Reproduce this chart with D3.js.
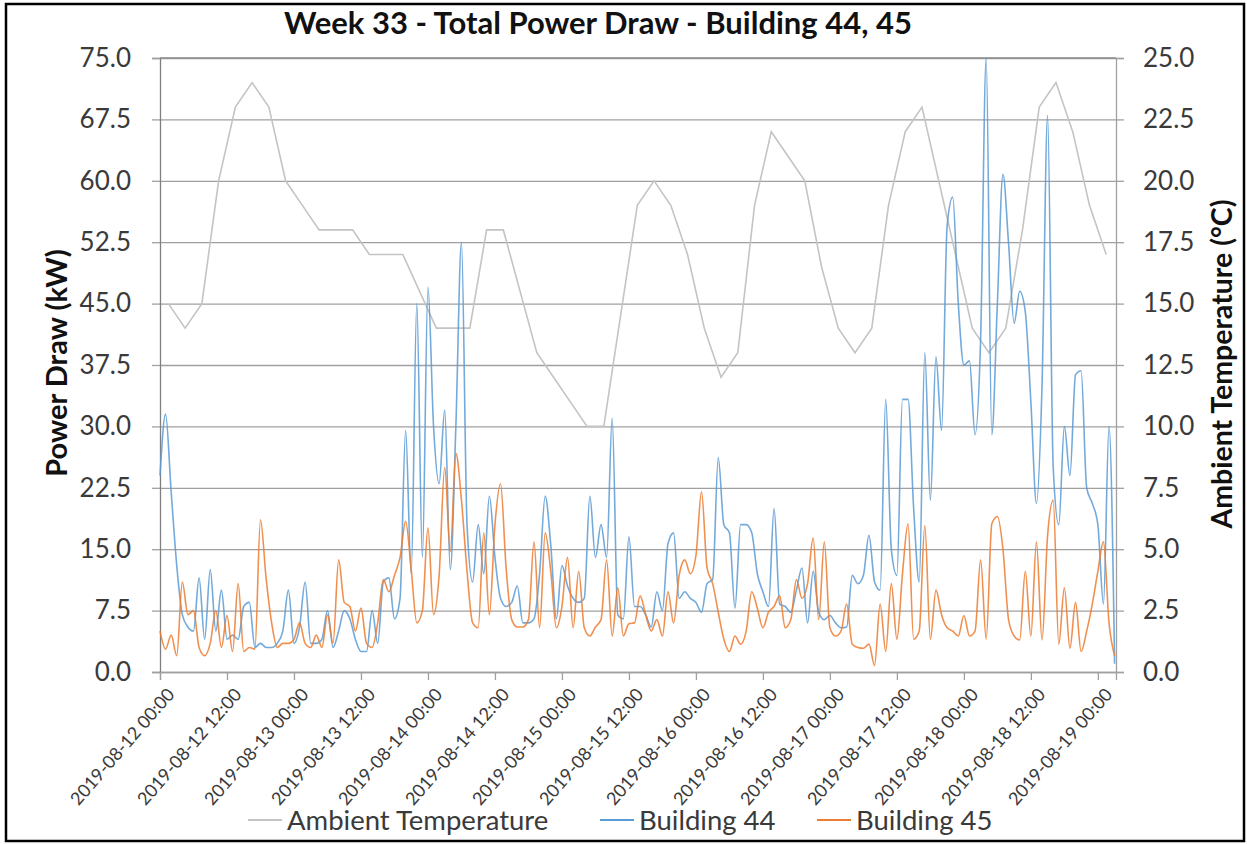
<!DOCTYPE html>
<html><head><meta charset="utf-8">
<script src="https://cdn.jsdelivr.net/npm/d3@7"></script>
<style>
body{margin:0;background:#fff;}
svg{display:block;font-family:Lato,"Open Sans",sans-serif;}
</style></head>
<body><svg id="chart" width="1247" height="844"></svg>
<script>
// ---------------- data ----------------
const chartTitle = "Week 33 - Total Power Draw - Building 44, 45";
const seriesNames = ["Ambient Temperature", "Building 44", "Building 45"];
const startTime = "2019-08-12 00:00";
const endTime = "2019-08-19 03:15";
// hourly readings (kW) from 2019-08-12 00:00
const building44 = [
 24,31.5,22,13,7,5.5,5,11.5,4,12.5,
 5,10,4,4.5,4,8,8.5,3,3.5,3,
 3,3.5,5,10,3.5,5.5,11,3.5,3.5,4,
 7.5,3,5,7.5,6.5,4,2.5,2.5,7.5,3.5,
 11,11.5,6.5,9,29.5,12,45,14,47,30,
 23,32,12.5,30,52.5,18,11,18,12,21.5,
 14,9,8,8.5,10.5,6,6,6.5,12,21.5,
 15.5,6.5,13,10.5,9,8.5,9,21.5,14,18,
 14,31,7,6.5,16.5,8,8,7,5.5,9.8,
 7.5,15.7,17,9,9.8,9,8.5,7.3,10.8,11.3,
 26.2,18,17,7.8,18,18,17,12,9.8,8,
 20,8.3,8,7.3,10,12.7,6,12.3,7.3,6.4,
 6.9,6,5.4,5.5,11.8,10.8,11.8,16.7,11,10,
 33.3,15,11.8,33.3,33.3,20,11,39,21,38.5,
 29.5,54.5,58,45,37.5,38,29,40.7,75,29,
 45,60.8,52.4,42.6,46.5,44,33,20.6,35,68,
 25,18,30,24,36.3,36.8,22.5,20.6,18,8.3,
 30,1
];
const building45 = [
 5,2.8,4.5,2,11,7,7.5,3,2,3.5,
 7.5,3,6.9,2.5,10.8,2.5,3,2.8,18.6,11.5,
 6,3,3.5,3.5,4,6,3.5,3,4.5,3,
 7,3.5,13.7,8.5,8,5,7.8,3.5,3,6,
 11.3,9.8,11.8,14,18.4,12.5,6,7.5,17.6,7,
 11.8,25,14.7,26.7,21,12.3,6,5.4,17,7,
 18,23,12.7,6.4,5.5,5.5,6.4,15.9,5.4,17,
 12.3,5.4,8,14,5.4,12.3,5.4,4.4,5.5,6.4,
 13.7,4.4,10.3,4.4,5.9,6,9.3,7,5,6.4,
 4.4,9.8,6,11.8,13.7,12,14.2,22,12.7,10.8,
 7.3,4,2.5,4.4,3.4,5,9.8,7.8,5.4,7.3,
 8,9.3,5.4,6.4,11.3,9,10.8,16.4,6.4,15.9,
 5.4,4.4,5,8.3,3.4,3,2.9,3.4,0.8,8.3,
 2.5,10.8,4,12,18.1,4,5,17.9,4,10,
 7,5.4,5,4.4,6.9,4.4,5,13.7,4,18.1,
 19,15,6.4,4.4,3.9,12.3,4.4,15.9,3.9,16.7,
 21,3.4,10.3,2.9,8.5,2.5,5,8.3,12.3,15.9,
 6,2
];
// 3-hourly ambient temperature (°C) from 2019-08-12 01:30
const tempStart = "2019-08-12 01:30";
const tempStepHours = 3;
const ambientTemp = [
 15,14,15,20,23,24,23,20,19,18,
 18,18,17,17,17,15.5,14,14,14,18,
 18,15.5,13,12,11,10,10,14.5,19,20,
 19,17,14,12,13,19,22,21,20,16.5,
 14,13,14,19,22,23,20,17,14,13,
 14,18,23,24,22,19,17
];
const xTickLabels = ["2019-08-12 00:00","2019-08-12 12:00","2019-08-13 00:00","2019-08-13 12:00",
 "2019-08-14 00:00","2019-08-14 12:00","2019-08-15 00:00","2019-08-15 12:00","2019-08-16 00:00",
 "2019-08-16 12:00","2019-08-17 00:00","2019-08-17 12:00","2019-08-18 00:00","2019-08-18 12:00",
 "2019-08-19 00:00"];
const powerTicks = [0,7.5,15,22.5,30,37.5,45,52.5,60,67.5,75];
const tempTicks = [0,2.5,5,7.5,10,12.5,15,17.5,20,22.5,25];
const leftAxisTitle = "Power Draw (kW)";
const rightAxisTitle = "Ambient Temperature (°C)";

// ---------------- layout ----------------
const parse = d3.timeParse("%Y-%m-%d %H:%M");
const fmt = d3.timeFormat("%Y-%m-%d %H:%M");
const L = 160, R = 1116, T = 58, B = 672;
const colors = {temp:"#c4c4c4", b44:"#5b9bd5", b45:"#ed7d31"};

const svg = d3.select("#chart");
svg.append("rect").attr("x",6).attr("y",4).attr("width",1238).attr("height",837)
  .attr("fill","#fff").attr("stroke","#000").attr("stroke-width",2.5);

const x = d3.scaleTime().domain([parse(startTime), parse(endTime)]).range([L, R]);
const yL = d3.scaleLinear().domain([0,75]).range([B, T]);
const yR = d3.scaleLinear().domain([0,25]).range([B, T]);

const t0 = parse(startTime), tt0 = parse(tempStart);
const b44Data = building44.map((v,i)=>({t:d3.timeHour.offset(t0,i), v}));
const b45Data = building45.map((v,i)=>({t:d3.timeHour.offset(t0,i), v}));
const tempData = ambientTemp.map((v,i)=>({t:new Date(+tt0 + i*tempStepHours*3600e3), v}));

// gridlines
svg.append("g").attr("transform",`translate(${L},0)`)
  .call(d3.axisLeft(yL).tickValues(powerTicks).tickSize(-(R-L)).tickFormat(""))
  .call(g=>g.select(".domain").remove())
  .call(g=>g.selectAll("line").attr("stroke","#a0a0a0").attr("stroke-width",1.3));

// left axis
const ga = svg.append("g").attr("transform",`translate(${L},0)`)
  .call(d3.axisLeft(yL).tickValues(powerTicks).tickSize(8).tickPadding(21).tickFormat(d3.format(".1f")));
ga.select(".domain").attr("stroke","#7f7f7f").attr("stroke-width",1.3);
ga.selectAll("line").attr("stroke","#a0a0a0").attr("stroke-width",1.3);
ga.selectAll("text").attr("font-size",26).attr("fill","#3a3a3a").attr("font-family","Lato");

// right axis
const gr = svg.append("g").attr("transform",`translate(${R},0)`)
  .call(d3.axisRight(yR).tickValues(tempTicks).tickSize(8).tickPadding(19).tickFormat(d3.format(".1f")));
gr.select(".domain").attr("stroke","#a0a0a0").attr("stroke-width",1.3);
gr.selectAll("line").attr("stroke","#a0a0a0").attr("stroke-width",1.3);
gr.selectAll("text").attr("font-size",26).attr("fill","#3a3a3a").attr("font-family","Lato");

// bottom axis
const gb = svg.append("g").attr("transform",`translate(0,${B})`)
  .call(d3.axisBottom(x).tickValues(xTickLabels.map(parse)).tickSize(8).tickFormat(fmt));
gb.select(".domain").attr("stroke","#a0a0a0").attr("stroke-width",1.3);
gb.selectAll("line").attr("stroke","#a0a0a0").attr("stroke-width",1.3);
gb.selectAll("text").attr("font-size",18).attr("fill","#3a3a3a").attr("font-family","Lato")
  .attr("text-anchor","end").attr("y",0).attr("dy",0)
  .attr("transform","translate(15,23) rotate(-49)");

// top border line
svg.append("line").attr("x1",L).attr("x2",R).attr("y1",T).attr("y2",T)
  .attr("stroke","#8c8c8c").attr("stroke-width",1.5);

// lines
const lineL = d3.line().x(d=>x(d.t)).y(d=>yL(d.v)).curve(d3.curveMonotoneX);
const lineT = d3.line().x(d=>x(d.t)).y(d=>yR(d.v));
svg.append("path").datum(tempData).attr("d",lineT).attr("fill","none")
  .attr("stroke",colors.temp).attr("stroke-width",1.6);
svg.append("path").datum(b44Data).attr("d",lineL).attr("fill","none")
  .attr("stroke",colors.b44).attr("stroke-width",1.6).attr("stroke-opacity",0.85);
svg.append("path").datum(b45Data).attr("d",lineL).attr("fill","none")
  .attr("stroke",colors.b45).attr("stroke-width",1.6).attr("stroke-opacity",0.85);

// title
svg.append("text").attr("x",598).attr("y",34).attr("text-anchor","middle")
  .attr("font-size",31).attr("font-weight","bold").attr("fill","#111").text(chartTitle);

// axis titles
svg.append("text").attr("transform","translate(67,363) rotate(-90)").attr("text-anchor","middle")
  .attr("font-size",29).attr("font-weight","bold").attr("fill","#111").text(leftAxisTitle);
svg.append("text").attr("transform","translate(1232,364) rotate(-90)").attr("text-anchor","middle")
  .attr("font-size",28.5).attr("font-weight","bold").attr("fill","#111").text(rightAxisTitle);

// legend
const legendItems = [
  {name:seriesNames[0], color:colors.temp, x:248},
  {name:seriesNames[1], color:colors.b44, x:600},
  {name:seriesNames[2], color:colors.b45, x:817}
];
const lg = svg.append("g");
legendItems.forEach(it=>{
  lg.append("line").attr("x1",it.x).attr("x2",it.x+34).attr("y1",820).attr("y2",820)
    .attr("stroke",it.color).attr("stroke-width",2);
  lg.append("text").attr("x",it.x+39).attr("y",830).attr("font-size",27.5)
    .attr("fill","#3a3a3a").text(it.name);
});
</script></body></html>
